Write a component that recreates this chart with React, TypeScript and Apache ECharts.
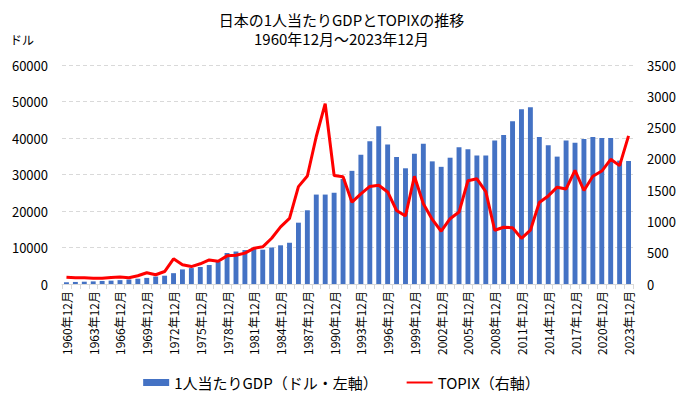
import React, { useEffect, useRef } from "react";
import * as echarts from "echarts";

const years: number[] = [];
for (let y = 1960; y <= 2023; y++) years.push(y);
const categories = years.map((y) => `${y}年12月`);

const gdpPerCapita = [
  475, 564, 633, 718, 835, 919, 1058, 1229, 1450, 1669,
  2038, 2272, 2967, 3997, 4354, 4659, 5197, 6100, 8500, 8900,
  9300, 9900, 9400, 10000, 10600, 11300, 16800, 20200, 24500, 24500,
  25000, 28800, 31000, 35400, 39100, 43200, 38200, 34800, 31700, 35700,
  38400, 33600, 32100, 34600, 37500, 36900, 35200, 35200, 39300, 40800,
  44600, 47900, 48400, 40300, 38000, 34900, 39300, 38700, 39700, 40300,
  40000, 40000, 33800, 33700,
];

const topix = [
  109.18, 101.66, 99.67, 92.87, 90.68, 105.68, 111.41, 100.89, 131.31, 179.3,
  148.35, 199.45, 401.7, 306.44, 278.34, 323.43, 383.88, 364.08, 449.55, 459.61,
  494.1, 570.31, 593.72, 731.82, 913.37, 1049.4, 1556.37, 1725.83, 2357.03, 2881.37,
  1733.83, 1714.68, 1307.66, 1439.31, 1559.09, 1577.7, 1470.94, 1175.03, 1086.99, 1722.2,
  1283.67, 1032.14, 843.29, 1043.69, 1149.63, 1649.76, 1681.07, 1475.68, 859.24, 907.59,
  898.8, 728.61, 859.8, 1302.29, 1407.51, 1547.3, 1518.61, 1817.56, 1494.09, 1721.36,
  1804.68, 1992.33, 1891.71, 2366.39,
];

const FONT = "'Noto Sans CJK JP', 'Noto Sans', sans-serif";

export default function App() {
  const ref = useRef<HTMLDivElement>(null);
  useEffect(() => {
    if (!ref.current) return;
    const chart = echarts.init(ref.current, undefined, { renderer: "svg" });
    chart.setOption({
      animation: false,
      textStyle: { fontFamily: FONT },
      title: {
        text: "日本の1人当たりGDPとTOPIXの推移\n1960年12月～2023年12月",
        left: "center",
        top: 5,
        textStyle: { fontSize: 15, fontWeight: "normal", color: "#000", lineHeight: 19, fontFamily: FONT },
      },
      graphic: [
        {
          type: "text",
          left: 10,
          top: 33,
          style: { text: "ドル", fontSize: 12, fill: "#000", fontFamily: FONT },
        },
      ],
      legend: {
        bottom: 7,
        left: "center",
        itemGap: 28,
        itemWidth: 26,
        itemHeight: 7,
        textStyle: { fontSize: 15, color: "#000", fontFamily: FONT },
        data: [
          { name: "1人当たりGDP（ドル・左軸）", icon: "rect" },
          { name: "TOPIX（右軸）", itemStyle: { opacity: 0 } },
        ],
      },
      grid: { left: 62, right: 50, top: 65, bottom: 118 },
      xAxis: {
        type: "category",
        data: categories,
        axisLine: { lineStyle: { color: "#d9d9d9" } },
        axisTick: { show: true, interval: 0, lineStyle: { color: "#d9d9d9" } },
        axisLabel: {
          interval: 2,
          rotate: 90,
          fontSize: 12,
          color: "#000",
          margin: 7,
          fontFamily: FONT,
        },
      },
      yAxis: [
        {
          type: "value",
          min: 0,
          max: 60000,
          interval: 10000,
          axisLine: { show: false },
          axisTick: { show: false },
          axisLabel: { fontSize: 13, color: "#000", margin: 14, fontFamily: FONT, formatter: (v: number) => String(v) },
          splitLine: { lineStyle: { color: "#d9d9d9", type: [4, 3] } },
        },
        {
          type: "value",
          min: 0,
          max: 3500,
          interval: 500,
          axisLine: { show: false },
          axisTick: { show: false },
          axisLabel: { fontSize: 13, color: "#000", margin: 14, fontFamily: FONT, formatter: (v: number) => String(v) },
          splitLine: { show: false },
        },
      ],
      series: [
        {
          name: "1人当たりGDP（ドル・左軸）",
          type: "bar",
          data: gdpPerCapita,
          barWidth: "55%",
          itemStyle: { color: "#4472C4" },
        },
        {
          name: "TOPIX（右軸）",
          type: "line",
          yAxisIndex: 1,
          data: topix,
          symbol: "none",
          lineStyle: { color: "#FF0000", width: 3 },
          itemStyle: { color: "#FF0000" },
        },
      ],
    });
    return () => chart.dispose();
  }, []);
  return (
    <div
      ref={ref}
      style={{ position: "fixed", left: 0, top: 0, width: 683, height: 402, background: "#fff" }}
    />
  );
}
